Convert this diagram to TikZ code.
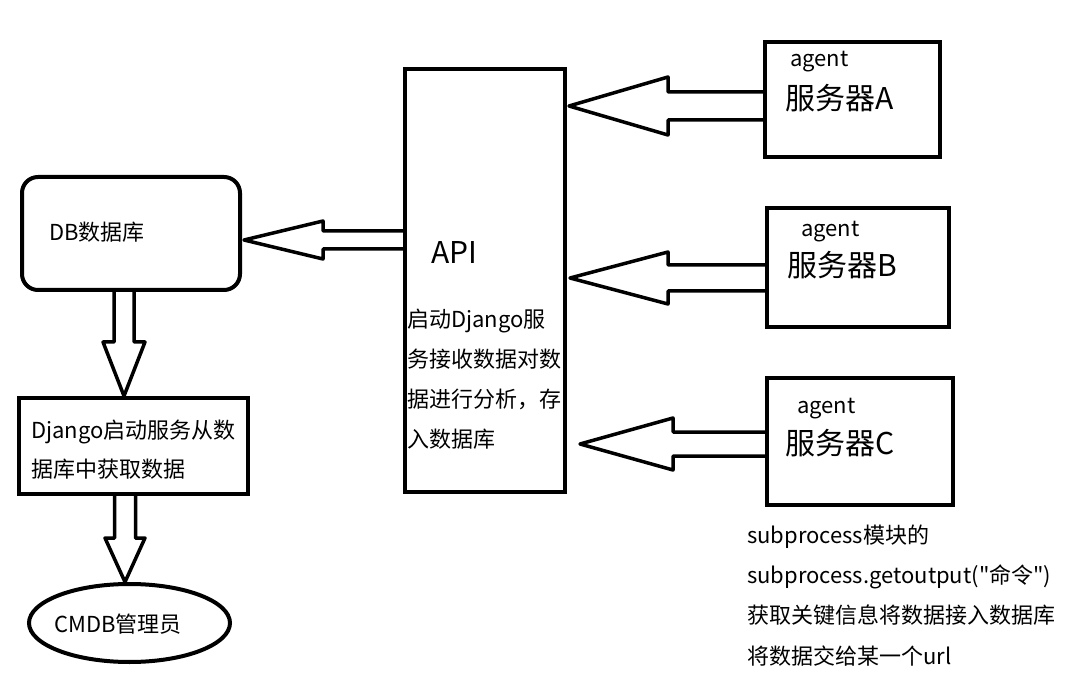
\documentclass[tikz,border=0pt]{standalone}
\usepackage{fontspec}
\setmainfont{Noto Sans CJK SC}
\newfontfamily\plainfont{Noto Sans CJK SC}
\usetikzlibrary{calc,shapes.geometric}

\tikzset{
  box/.style={draw, line width=4pt, rectangle, inner sep=0pt},
  fatline/.style={draw, line width=3.5pt, line join=round},
  txt/.style={anchor=base west, inner sep=0pt, font=\fontsize{22}{40}\selectfont, align=left},
  bigtxt/.style={anchor=base west, inner sep=0pt, font=\fontsize{30}{36}\selectfont},
}

% hollow block arrow: shaft half width, head half width, head length, tail, tip
\newcommand{\fatarrow}[5]{%
  \coordinate (fa-base) at ($(#5)!#3!(#4)$);
  \draw[fatline] ($(#4)!#1!90:(#5)$) -- ($(fa-base)!#1!90:(#5)$) -- ($(fa-base)!#2!90:(#5)$) -- (#5)
    -- ($(fa-base)!#2!-90:(#5)$) -- ($(fa-base)!#1!-90:(#5)$) -- ($(#4)!#1!-90:(#5)$);
}

\begin{document}
\begin{tikzpicture}[x=1pt, y=-1pt]
  \useasboundingbox (0,0) rectangle (1072,687);

  % boxes
  \node[box, minimum width=160pt, minimum height=423pt] (apiBox) at (485,280.5) {};
  \node[box, minimum width=175pt, minimum height=115pt] (srvA) at (852.5,99.5) {};
  \node[box, minimum width=182pt, minimum height=119pt] (srvB) at (858,267.5) {};
  \node[box, minimum width=186pt, minimum height=127pt] (srvC) at (860,441.5) {};
  \node[box, rounded corners=16pt, minimum width=218pt, minimum height=113pt] (dbBox) at (131,233.5) {};
  \node[box, minimum width=229pt, minimum height=96pt] (djangoBox) at (133.5,446) {};
  \node[box, ellipse, minimum width=201pt, minimum height=78pt] (cmdb) at (129.5,623) {};

  % texts (multi-line nodes sit on their last baseline)
  \node[bigtxt] (apiTitle) at (431,264) {API};
  \node[txt] (apiTxt) at (407,447) {启动Django服\\务接收数据对数\\据进行分析，存\\入数据库};
  \node[txt] (agentA) at (790,67) {agent};
  \node[bigtxt] (nameA) at (785,110) {服务器A};
  \node[txt] (agentB) at (801,237) {agent};
  \node[bigtxt] (nameB) at (787,277) {服务器B};
  \node[txt] (agentC) at (797,413) {agent};
  \node[bigtxt] (nameC) at (785,454) {服务器C};
  \node[txt] (dbTxt) at (49,241) {DB数据库};
  \node[txt, font=\fontsize{22}{39}\selectfont] (djangoTxt) at (31,477) {Django启动服务从数\\据库中获取数据};
  \node[txt] (cmdbTxt) at (54,632) {CMDB管理员};
  \node[txt, font=\fontsize{22}{40.3}\selectfont\plainfont] (noteTxt) at (747,664) {subprocess模块的\\subprocess.getoutput("命令")\\获取关键信息将数据接入数据库\\将数据交给某一个url};

  % arrows
  \coordinate (aTail) at ($(srvA.west)+(2,6.5)$);
  \coordinate (aTip) at ($(aTail -| apiBox.east)+(2,0)$);
  \coordinate (bTail) at ($(srvB.west)+(2,10.5)$);
  \coordinate (bTip) at ($(bTail -| apiBox.east)+(3,0)$);
  \coordinate (cTail) at ($(srvC.west)+(2,2.5)$);
  \coordinate (cTip) at ($(cTail -| apiBox.east)+(13,0)$);
  \coordinate (dbTail) at ($(apiBox.west)+(2,-40.5)$);
  \coordinate (dbTip) at ($(dbTail -| dbBox.east)+(2,0)$);
  \coordinate (djTail) at ($(dbBox.south)+(-7,-2)$);
  \coordinate (djTip) at (djTail |- djangoBox.north);
  \coordinate (cmTail) at ($(djangoBox.south)+(-8.5,-2)$);
  \coordinate (cmTip) at (cmTail |- cmdb.north);

  \fatarrow{14pt}{29pt}{99pt}{aTail}{aTip}
  \fatarrow{13pt}{26pt}{98pt}{bTail}{bTip}
  \fatarrow{12pt}{26pt}{93pt}{cTail}{cTip}
  \fatarrow{9pt}{19pt}{79pt}{dbTail}{dbTip}
  \fatarrow{10pt}{21pt}{54pt}{djTail}{djTip}
  \fatarrow{10.5pt}{20pt}{44pt}{cmTail}{cmTip}
\end{tikzpicture}
\end{document}
